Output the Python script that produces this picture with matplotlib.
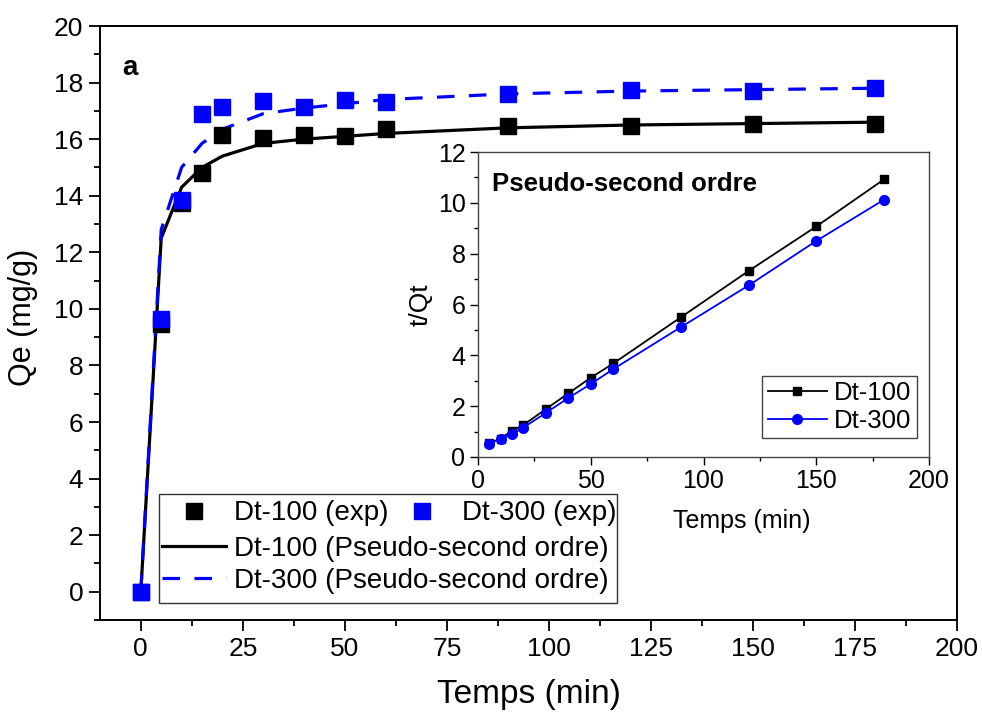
import matplotlib
matplotlib.use("Agg")
import matplotlib.pyplot as plt
from matplotlib.patches import Rectangle
from matplotlib.ticker import MultipleLocator

plt.rcParams['font.family'] = ['Liberation Sans', 'DejaVu Sans']

# ---- data ----
t_main = [0, 5, 10, 15, 20, 30, 40, 50, 60, 90, 120, 150, 180]
q_exp_100 = [0, 9.45, 13.75, 14.8, 16.15, 16.05, 16.15, 16.1, 16.35, 16.45, 16.45, 16.55, 16.55]
q_exp_300 = [0, 9.65, 13.85, 16.9, 17.15, 17.35, 17.15, 17.4, 17.3, 17.6, 17.75, 17.7, 17.8]
q_fit_100 = [0, 12.5, 14.3, 15.0, 15.4, 15.85, 16.0, 16.1, 16.2, 16.4, 16.5, 16.55, 16.6]
q_fit_300 = [0, 12.8, 15.0, 15.85, 16.35, 16.9, 17.1, 17.25, 17.4, 17.6, 17.7, 17.75, 17.8]

t_inset = [5, 10, 15, 20, 30, 40, 50, 60, 90, 120, 150, 180]
tq_100 = [0.55, 0.72, 1.03, 1.25, 1.88, 2.5, 3.12, 3.68, 5.5, 7.32, 9.07, 10.92]
tq_300 = [0.52, 0.71, 0.89, 1.15, 1.73, 2.32, 2.87, 3.46, 5.11, 6.75, 8.5, 10.12]

BLUE = '#0000ff'

fig = plt.figure(figsize=(9.82, 7.13), dpi=100)
ax = fig.add_axes([100/982, (713-620)/713, 857/982, 594/713])

l100, = ax.plot(t_main, q_fit_100, color='black', lw=2.3, zorder=2)
l300, = ax.plot(t_main, q_fit_300, color=BLUE, lw=2.3, dashes=(5.5, 4.5), zorder=2)
s100, = ax.plot(t_main, q_exp_100, 's', color='black', ms=11, ls='none', zorder=3)
s300, = ax.plot(t_main, q_exp_300, 's', color=BLUE, ms=11, ls='none', zorder=4)

ax.set_xlim(-10, 200)
ax.set_ylim(-1, 20)
ax.xaxis.set_major_locator(MultipleLocator(25))
ax.xaxis.set_minor_locator(MultipleLocator(12.5))
ax.yaxis.set_major_locator(MultipleLocator(2))
ax.yaxis.set_minor_locator(MultipleLocator(1))
ax.tick_params(which='major', direction='out', length=8, width=1.3, labelsize=19, pad=4)
ax.tick_params(which='minor', direction='out', length=4.5, width=1.3)
for s in ax.spines.values():
    s.set_linewidth(1.4)
ax.set_xlabel('Temps (min)', fontsize=24)
ax.xaxis.set_label_coords(0.5, -0.10)
ax.set_ylabel('Qe (mg/g)', fontsize=22)
ax.yaxis.set_label_coords(-0.072, 0.51)
ax.text(0.026, 0.952, 'a', transform=ax.transAxes, fontsize=20, fontweight='bold', va='top', ha='left')

# legend: first row two markers, then two line entries
leg1 = ax.legend(handles=[s100, s300], labels=['Dt-100 (exp)', 'Dt-300 (exp)'], ncol=2,
                 loc='upper left', bbox_to_anchor=(0.069, 0.206), frameon=False,
                 fontsize=20, handlelength=2.3, handletextpad=0.3, columnspacing=0.05,
                 borderpad=0.1, borderaxespad=0)
ax.add_artist(leg1)
leg2 = ax.legend(handles=[l100, l300], labels=['Dt-100 (Pseudo-second ordre)', 'Dt-300 (Pseudo-second ordre)'],
                 loc='upper left', bbox_to_anchor=(0.069, 0.146), frameon=False,
                 fontsize=20, handlelength=2.3, handletextpad=0.3, labelspacing=0.22,
                 borderpad=0.1, borderaxespad=0)
ax.add_patch(Rectangle((0.069, 0.0286), 0.534, 0.1834, transform=ax.transAxes,
                       fill=False, edgecolor='#333333', lw=1.0, zorder=5))

# inset
axi = fig.add_axes([478/982, (713-457)/713, 451/982, 305/713])
axi.plot(t_inset, tq_100, '-s', color='black', ms=6, lw=1.3, label='Dt-100')
axi.plot(t_inset, tq_300, '-o', color=BLUE, ms=7, lw=1.3, label='Dt-300')
axi.set_xlim(0, 200)
axi.set_ylim(0, 12)
axi.xaxis.set_major_locator(MultipleLocator(50))
axi.xaxis.set_minor_locator(MultipleLocator(25))
axi.yaxis.set_major_locator(MultipleLocator(2))
axi.yaxis.set_minor_locator(MultipleLocator(1))
axi.tick_params(which='major', direction='out', length=6, width=1.0, labelsize=18, pad=3)
axi.tick_params(which='minor', direction='out', length=3, width=1.0)
for s in axi.spines.values():
    s.set_linewidth(1.0)
    s.set_edgecolor('#444444')
axi.set_xlabel('Temps (min)', fontsize=18)
axi.xaxis.set_label_coords(0.585, -0.17)
axi.set_ylabel('t/Qt', fontsize=19)
axi.yaxis.set_label_coords(-0.10, 0.5)
axi.text(0.03, 0.935, 'Pseudo-second ordre', transform=axi.transAxes, fontsize=18.5,
         fontweight='bold', va='top', ha='left')
axi.legend(loc='lower right', bbox_to_anchor=(0.973, 0.062), fontsize=18.5, fancybox=False,
           edgecolor='#444444', framealpha=1, borderaxespad=0, handlelength=2.3,
           handletextpad=0.3, borderpad=0.2, labelspacing=0.15)

fig.savefig('out.png', dpi=100)
